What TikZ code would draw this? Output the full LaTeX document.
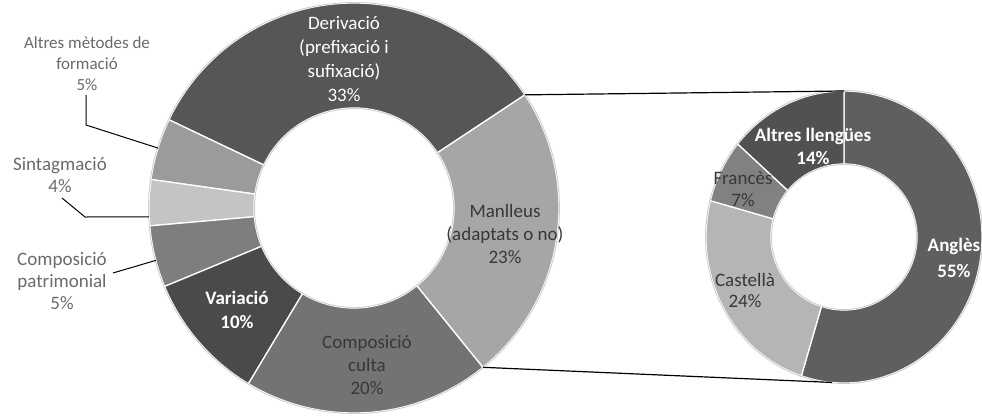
\documentclass[tikz,border=0pt]{standalone}
\usepackage{fontspec}
\setmainfont{Carlito}
\definecolor{cDer}{HTML}{565656}
\definecolor{cAlt}{HTML}{9B9B9B}
\definecolor{cSin}{HTML}{C4C4C4}
\definecolor{cPat}{HTML}{7E7E7E}
\definecolor{cVar}{HTML}{4A4A4A}
\definecolor{cCul}{HTML}{737373}
\definecolor{cMan}{HTML}{A6A6A6}
\definecolor{cAng}{HTML}{5F5F5F}
\definecolor{cCas}{HTML}{B5B5B5}
\definecolor{cFra}{HTML}{818181}
\definecolor{cAll}{HTML}{515151}
\definecolor{outtxt}{HTML}{6A6A6A}
\definecolor{intxt}{HTML}{383838}
\definecolor{rim}{HTML}{CFCFCF}
\begin{document}
\begin{tikzpicture}[x=1pt,y=1pt,
  slicefill/.style={draw=white,line width=1.3pt,line join=round},
  rimline/.style={draw=rim,line width=0.9pt},
  outlbl/.style={align=center,inner sep=0pt,text=outtxt,font=\fontsize{19}{22}\selectfont},
  inlbl/.style={align=center,inner sep=0pt,text=intxt,font=\fontsize{19}{23}\selectfont},
  whlbl/.style={align=center,inner sep=0pt,text=white,font=\bfseries\fontsize{19}{24}\selectfont},
  leader/.style={draw=black,line width=1pt},
  zoomline/.style={draw=black,line width=1.2pt}]
\useasboundingbox (0,0) rectangle (982,416);
% main doughnut
\begin{scope}[shift={(354,208)}]
  \foreach \a/\b/\c in {33.5/154.5/cDer,154.5/172/cAlt,172/185/cSin,185/202.5/cPat,202.5/239/cVar,239/309/cCul,309/393.5/cMan}
    \fill[\c,slicefill] (\a:205pt) arc[start angle=\a,end angle=\b,radius=205pt] -- (\b:100pt) arc[start angle=\b,end angle=\a,radius=100pt] -- cycle;
  \draw[rimline] (0,0) circle[radius=205.5pt];
  \draw[rimline] (0,0) circle[radius=99.5pt];
  \coordinate (mt) at (33.5:205pt);
  \coordinate (mb) at (309:205pt);
  \coordinate (altEnd) at (163:205pt);
  \coordinate (sinEnd) at (182.5:205pt);
  \coordinate (patEnd) at (194.8:205pt);
\end{scope}
% second doughnut
\begin{scope}[shift={(844,179)}]
  \foreach \a/\b/\c in {-108/90/cAng,165.6/252/cCas,140.4/165.6/cFra,90/140.4/cAll}
    \fill[\c,slicefill] (\a:138pt and 146pt) arc[start angle=\a,end angle=\b,x radius=138pt,y radius=146pt] -- (\b:73pt) arc[start angle=\b,end angle=\a,radius=73pt] -- cycle;
  \draw[rimline] (0,0) ellipse[x radius=138.5pt,y radius=146.5pt];
  \draw[rimline] (0,0) circle[radius=72.5pt];
  \coordinate (rt) at (90:138pt and 146pt);
  \coordinate (rb) at (265:138pt and 146pt);
\end{scope}
% zoom connectors
\draw[zoomline] (mt) -- (rt);
\draw[zoomline] (mb) -- (rb);
% labels main
\node[outlbl,font=\fontsize{17}{21}\selectfont] (altm) at (87,352) {Altres mètodes de\\formació\\5\%};
\node[outlbl] (sint) at (60,241) {Sintagmació\\4\%};
\node[outlbl] (patr) at (62,135) {Composició\\patrimonial\\5\%};
\node[whlbl,font=\fontsize{19}{24}\selectfont] (deri) at (344,357) {Derivació\\(prefixació i\\sufixació)\\33\%};
\node[inlbl] (manl) at (505,182) {Manlleus\\(adaptats o no)\\23\%};
\node[inlbl] (cult) at (367,51) {Composició\\culta\\20\%};
\node[whlbl] (vari) at (237,106) {Variació\\10\%};
% labels second
\node[whlbl,font=\bfseries\fontsize{19}{23}\selectfont] (allg) at (813,270) {Altres llengües\\14\%};
\node[inlbl,font=\fontsize{19}{22}\selectfont] (fran) at (743,227) {Francès\\7\%};
\node[inlbl,font=\fontsize{19}{21}\selectfont] (cast) at (745,126) {Castellà\\24\%};
\node[whlbl,font=\bfseries\fontsize{19}{26}\selectfont] (angl) at (954,158) {Anglès\\55\%};
% leader lines
\coordinate (altS) at (86,321);
\coordinate (altK) at (86,291);
\draw[leader] (altS) -- (altK) -- (altEnd);
\coordinate (sinS) at (62,218);
\coordinate (sinK) at (85,199);
\draw[leader] (sinS) -- (sinK) -- (sinEnd);
\coordinate (patS) at (113,143);
\draw[leader] (patS) -- (patEnd);
\end{tikzpicture}
\end{document}
